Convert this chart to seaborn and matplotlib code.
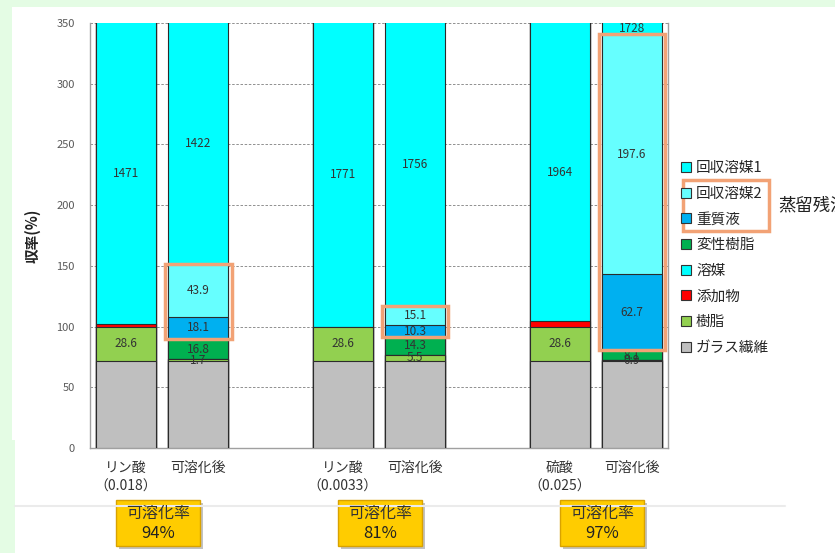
import numpy as np
import pandas as pd
import matplotlib
matplotlib.use("Agg")
import matplotlib.pyplot as plt
from matplotlib.patches import Rectangle
from matplotlib.lines import Line2D
import seaborn as sns

# 設定
sns.set_style("white")
plt.rcParams['font.family'] = ['Noto Sans CJK JP', 'DejaVu Sans']

# データ (各列: 1本ずつの棒)
slot_order = ["リン酸A", "可溶化後A", "空1", "リン酸B", "可溶化後B", "空2", "硫酸", "可溶化後C"]
bar_names = ["リン酸A", "可溶化後A", "リン酸B", "可溶化後B", "硫酸", "可溶化後C"]
tick_labels = ["リン酸\n（0.018）", "可溶化後", "", "リン酸\n（0.0033）", "可溶化後", "",
               "硫酸\n（0.025）", "可溶化後"]

# 下から積み上げる順
layer_names = ["ガラス繊維", "樹脂", "添加物", "溶媒", "変性樹脂", "重質液", "回収溶媒2", "回収溶媒1"]
glass = [71.4, 71.4, 71.4, 71.4, 71.4, 71.4]
resin = [28.6, 1.7, 28.6, 5.5, 28.6, 0.9]
additive = [2.0, 0, 0, 0, 4.5, 0]
solvent = [1471, 0, 1771, 0, 1964, 0]
mod_resin = [0, 16.8, 0, 14.3, 0, 8.1]
heavy = [0, 18.1, 0, 10.3, 0, 62.7]
recov2 = [0, 43.9, 0, 15.1, 0, 197.6]
recov1 = [0, 1422, 0, 1756, 0, 1728]
layers = [glass, resin, additive, solvent, mod_resin, heavy, recov2, recov1]
layer_colors = ["#BFBFBF", "#92D050", "#FF0000", "#00FFFF", "#00B050", "#00B0F0", "#66FFFF", "#00FFFF"]
labelled = ["樹脂", "溶媒", "変性樹脂", "重質液", "回収溶媒2", "回収溶媒1"]
rates = ["94%", "81%", "97%"]

df = pd.DataFrame(np.array(layers).T, columns=layer_names)
df["bar"] = bar_names
cum = df[layer_names].cumsum(axis=1)

fig = plt.figure(figsize=(8.35, 5.53), dpi=100)
fig.patch.set_facecolor("white")

# 背景の薄緑
green = "#E4FCE4"
fig.patches.append(Rectangle((0, 1 - 7 / 553), 1, 7 / 553, transform=fig.transFigure,
                             facecolor=green, edgecolor="none", zorder=-10))
fig.patches.append(Rectangle((0, 0), 12 / 835, 1, transform=fig.transFigure,
                             facecolor=green, edgecolor="none", zorder=-10))
fig.patches.append(Rectangle((0, 0), 15 / 835, 113 / 553, transform=fig.transFigure,
                             facecolor=green, edgecolor="none", zorder=-10))
fig.lines.append(Line2D([15 / 835, 785 / 835], [1 - 506 / 553, 1 - 506 / 553],
                        transform=fig.transFigure, color="#EBEBEB", lw=1.5))

ax = fig.add_axes([90 / 835, 105 / 553, 578 / 835, 425 / 553])

# 上の層から累積値で重ねて描く
for i in reversed(range(len(layer_names))):
    sns.barplot(x=df["bar"], y=cum[layer_names[i]], order=slot_order, color=layer_colors[i],
                saturation=1, width=0.83, edgecolor="#2B2B2B", linewidth=0.8,
                errorbar=None, ax=ax, zorder=3)

pos = {name: slot_order.index(name) for name in bar_names}
ymax = 350

# 数値ラベル
for j, name in enumerate(bar_names):
    for i, lname in enumerate(layer_names):
        v = df.loc[j, lname]
        if lname not in labelled or v <= 0:
            continue
        top = cum.loc[j, lname]
        bottom = top - v
        yc = (bottom + min(top, ymax)) / 2
        txt = f"{v:.0f}" if v >= 1000 else f"{v:.1f}"
        ax.text(pos[name], yc, txt, ha="center", va="center", fontsize=8.5,
                color="#333333", zorder=6)

# 蒸留残渣の枠
for j, name in enumerate(bar_names):
    if df.loc[j, "重質液"] <= 0:
        continue
    y0 = cum.loc[j, "変性樹脂"]
    y1 = cum.loc[j, "回収溶媒2"]
    ax.add_patch(Rectangle((pos[name] - 0.46, y0), 0.92, y1 - y0, fill=False,
                           edgecolor="#F2A275", lw=2.5, zorder=7, clip_on=False))

ax.set_ylim(0, ymax)
ax.set_xlim(-0.5, len(slot_order) - 0.5)
ax.set_yticks(range(0, 351, 50))
ax.yaxis.grid(True, linestyle=(0, (3, 2)), color="#7F7F7F", lw=0.6, zorder=0)
ax.set_axisbelow(True)
ax.set_xticks(range(len(slot_order)))
ax.set_xticklabels(tick_labels, fontsize=10, color="#333333", linespacing=1.45)
ax.set_xticks(np.arange(0.5, len(slot_order) - 0.5, 1), minor=True)
ax.tick_params(axis="x", which="major", length=0, pad=9)
ax.tick_params(axis="x", which="minor", length=3, direction="in", color="#999999")
ax.tick_params(axis="y", length=3, color="#999999", labelsize=8, labelcolor="#595959", pad=8)
ax.set_xlabel("")
ax.set_ylabel("収率(%)", fontsize=10.5, fontweight="bold", color="#222222")
ax.yaxis.set_label_coords(-0.085, 0.5)
for s in ["left", "bottom", "right"]:
    ax.spines[s].set_color("#A0A0A0")
    ax.spines[s].set_linewidth(1)
ax.spines["top"].set_visible(False)

# 凡例
handles = [Line2D([], [], marker="s", linestyle="none", markersize=7,
                  markerfacecolor=layer_colors[i], markeredgecolor="#333333", markeredgewidth=0.8)
           for i in reversed(range(len(layer_names)))]
leg_labels = [layer_names[i] for i in reversed(range(len(layer_names)))]
fig.legend(handles, leg_labels, loc="upper left", bbox_to_anchor=(680 / 835, 1 - 161 / 553),
           bbox_transform=fig.transFigure, frameon=False, fontsize=10.5, handlelength=0.8,
           handletextpad=0.3, labelspacing=0.8, borderpad=0, borderaxespad=0)
fig.patches.append(Rectangle((683 / 835, 1 - 231 / 553), 86 / 835, 51 / 553,
                             transform=fig.transFigure, fill=False, edgecolor="#F2A275", lw=2.5))
fig.text(778 / 835, 1 - 205 / 553, "蒸留残渣", fontsize=12.5, va="center", ha="left", color="#222222")

# 可溶化率のボックス
for k, cx in enumerate([158, 380, 602]):
    x0 = (cx - 42) / 835
    y0 = 1 - 546 / 553
    w, h = 84 / 835, 46 / 553
    fig.patches.append(Rectangle((x0 + 3 / 835, y0 - 3 / 553), w, h, transform=fig.transFigure,
                                 facecolor="#9A9A9A", edgecolor="none", alpha=0.6))
    fig.patches.append(Rectangle((x0, y0), w, h, transform=fig.transFigure,
                                 facecolor="#FFCC00", edgecolor="#D9A200", lw=1))
    fig.text(cx / 835, 1 - 513 / 553, "可溶化率", ha="center", va="center", fontsize=11.5, color="#333333")
    fig.text(cx / 835, 1 - 534 / 553, rates[k], ha="center", va="center", fontsize=12, color="#222222")

plt.savefig("out.png", dpi=100)
plt.close()
